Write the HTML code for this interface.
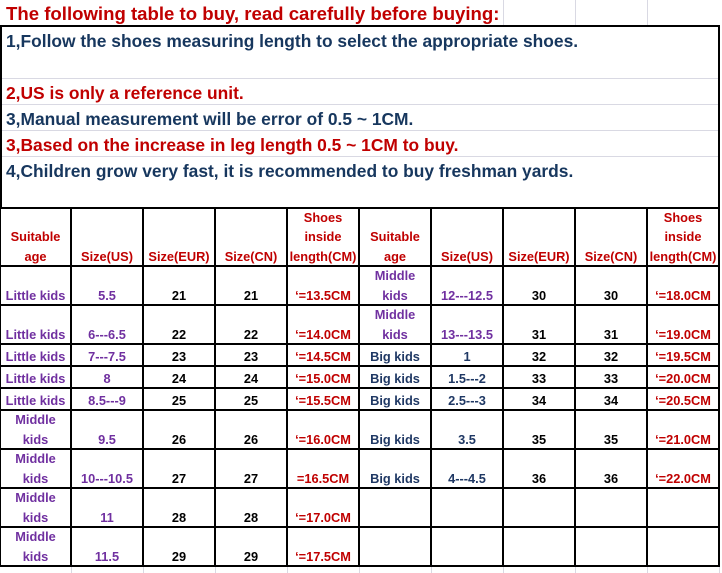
<!DOCTYPE html>
<html><head><meta charset="utf-8"><style>
*{margin:0;padding:0;box-sizing:border-box}
body{width:722px;height:573px;background:#fff;position:relative;overflow:hidden;font-family:"Liberation Sans",sans-serif;font-weight:bold}
.l{position:absolute;left:6px;white-space:nowrap;font-size:17.4px}
.r{color:#c00000}.b{color:#17375e}
.g{position:absolute;background:#d9d9e3}
.v{position:absolute;background:#000}
.c{position:absolute;display:flex;flex-direction:column;justify-content:flex-end;align-items:center;text-align:center;font-size:12.8px;line-height:19.5px;white-space:nowrap;transform:translateY(1px)}
.h{color:#c00000}.p{color:#7030a0}.k{color:#000}.m{color:#c00000}.d{color:#1f3864}
</style></head><body>
<div class="g" style="left:503px;top:0;width:1px;height:26px"></div>
<div class="g" style="left:575px;top:0;width:1px;height:26px"></div>
<div class="g" style="left:647px;top:0;width:1px;height:26px"></div>
<div class="l r" style="top:3px;font-size:18.6px">The following table to buy, read carefully before buying:</div>
<div style="position:absolute;left:0;top:25px;width:720px;height:184px;border:2px solid #000;border-bottom:none"></div>
<div class="g" style="left:2px;top:78px;width:716px;height:1px"></div>
<div class="g" style="left:2px;top:104px;width:716px;height:1px"></div>
<div class="g" style="left:2px;top:130px;width:716px;height:1px"></div>
<div class="g" style="left:2px;top:156px;width:716px;height:1px"></div>
<div class="l b" style="top:31px">1,Follow the shoes measuring length to select the appropriate shoes.</div>
<div class="l r" style="top:83px">2,US is only a reference unit.</div>
<div class="l b" style="top:109px">3,Manual measurement will be error of 0.5 ~ 1CM.</div>
<div class="l r" style="top:135px">3,Based on the increase in leg length 0.5 ~ 1CM to buy.</div>
<div class="l b" style="top:161px">4,Children grow very fast, it is recommended to buy freshman yards.</div>
<div id="t"></div>
<script>
var X=[0,71,143,215,287,359,431,503,575,647,719];
var Y=[208,266,305,344,366,388,410,449,488,527,566];
var R=[
["h:Suitable<br>age","h:Size(US)","h:Size(EUR)","h:Size(CN)","h:Shoes<br>inside<br>length(CM)","h:Suitable<br>age","h:Size(US)","h:Size(EUR)","h:Size(CN)","h:Shoes<br>inside<br>length(CM)"],
["p:Little kids","p:5.5","k:21","k:21","m:‘=13.5CM","p:Middle<br>kids","p:12---12.5","k:30","k:30","m:‘=18.0CM"],
["p:Little kids","p:6---6.5","k:22","k:22","m:‘=14.0CM","p:Middle<br>kids","p:13---13.5","k:31","k:31","m:‘=19.0CM"],
["p:Little kids","p:7---7.5","k:23","k:23","m:‘=14.5CM","d:Big kids","d:1","k:32","k:32","m:‘=19.5CM"],
["p:Little kids","p:8","k:24","k:24","m:‘=15.0CM","d:Big kids","d:1.5---2","k:33","k:33","m:‘=20.0CM"],
["p:Little kids","p:8.5---9","k:25","k:25","m:‘=15.5CM","d:Big kids","d:2.5---3","k:34","k:34","m:‘=20.5CM"],
["p:Middle<br>kids","p:9.5","k:26","k:26","m:‘=16.0CM","d:Big kids","d:3.5","k:35","k:35","m:‘=21.0CM"],
["p:Middle<br>kids","p:10---10.5","k:27","k:27","m:=16.5CM","d:Big kids","d:4---4.5","k:36","k:36","m:‘=22.0CM"],
["p:Middle<br>kids","p:11","k:28","k:28","m:‘=17.0CM","","","","",""],
["p:Middle<br>kids","p:11.5","k:29","k:29","m:‘=17.5CM","","","","",""]];
var h="";
for(var r=0;r<R.length;r++)for(var c=0;c<10;c++){var s=R[r][c];if(!s)continue;var i=s.indexOf(":");
h+='<div class="c '+s.slice(0,i)+'" style="left:'+X[c]+'px;width:'+(X[c+1]-X[c])+'px;top:'+Y[r]+'px;height:'+(Y[r+1]-Y[r]-1)+'px">'+s.slice(i+1)+'</div>';}
for(var c=0;c<X.length;c++)h+='<div class="v" style="left:'+(X[c]-1)+'px;top:'+Y[0]+'px;width:2px;height:'+(Y[10]-Y[0]+1)+'px"></div>';
for(var r=0;r<Y.length;r++)h+='<div class="v" style="left:0;top:'+(Y[r]-1)+'px;width:720px;height:2px"></div>';
for(var c=1;c<X.length;c++)h+='<div class="g" style="left:'+X[c]+'px;top:567px;width:1px;height:6px"></div>';
document.getElementById("t").innerHTML=h;
</script>
</body></html>
